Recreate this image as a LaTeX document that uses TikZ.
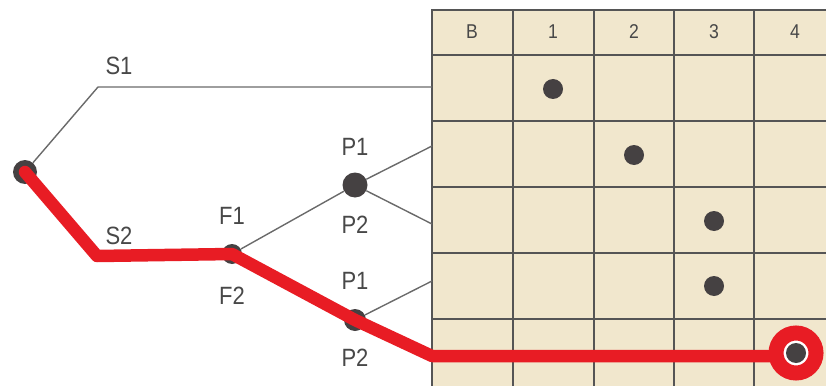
\documentclass[tikz,border=0pt]{standalone}
\usepackage{fontspec}
\setmainfont{Liberation Sans}
\newfontfamily\narrowfont[FakeStretch=0.88]{Liberation Sans}
\definecolor{gridbeige}{HTML}{F1E7CD}
\definecolor{gridline}{HTML}{555555}
\definecolor{branchgray}{HTML}{6A6A6A}
\definecolor{dotgray}{HTML}{454142}
\definecolor{pathred}{HTML}{E81C24}
\definecolor{txtgray}{HTML}{484848}
\tikzset{
  dot/.style={circle, fill=dotgray, inner sep=0pt, minimum size=#1},
  dot/.default=20pt,
  branch/.style={draw=branchgray, line width=1.4pt},
  redpath/.style={draw=pathred, line width=12.5pt, line join=round, line cap=round},
  lbl/.style={text=txtgray, font=\narrowfont\fontsize{25}{29}\selectfont},
  head/.style={text=txtgray, font=\narrowfont\fontsize{20}{23}\selectfont}
}
\begin{document}
\begin{tikzpicture}[x=1pt, y=-1pt]
	\useasboundingbox (0,0) rectangle (826,385);
	% Tableau
	\fill[gridbeige] (432,10) rectangle (840,390);
	\draw[gridline, line width=1.4pt] (840,10) -- (432,10) -- (432,390);
	\draw[gridline, line width=1.4pt] (513,10) -- (513,390);
	\draw[gridline, line width=1.4pt] (594,10) -- (594,390);
	\draw[gridline, line width=1.4pt] (674,10) -- (674,390);
	\draw[gridline, line width=1.4pt] (754,10) -- (754,390);
	\draw[gridline, line width=1.4pt] (432,55) -- (840,55);
	\draw[gridline, line width=1.4pt] (432,121) -- (840,121);
	\draw[gridline, line width=1.4pt] (432,187) -- (840,187);
	\draw[gridline, line width=1.4pt] (432,253) -- (840,253);
	\draw[gridline, line width=1.4pt] (432,319) -- (840,319);
	\node[head] (hB) at (472,32) {B};
	\node[head] (h1) at (553,32) {1};
	\node[head] (h2) at (634,32) {2};
	\node[head] (h3) at (714,32) {3};
	\node[head] (h4) at (795,32) {4};
	\node[dot] (c1) at (553,89) {};
	\node[dot] (c2) at (634,155) {};
	\node[dot] (c3) at (714,221) {};
	\node[dot] (c4) at (714,286) {};
	% Arbre
	\node[dot=24pt] (root) at (25,172) {};
	\node[dot=25pt] (pa) at (355,185) {};
	\node[dot] (f) at (232,254) {};
	\node[dot=22pt] (pb) at (355,320) {};
	\coordinate (s1) at (98,87);
	\coordinate (s2) at (97,256);
	\coordinate (g1) at (432,87);
	\coordinate (g2) at (432,146);
	\coordinate (g3) at (432,224);
	\coordinate (g4) at (432,281);
	\coordinate (g5) at (432,356);
	\coordinate (g6) at (780,356);
	\draw[branch] (root) -- (s1) -- (g1);
	\draw[branch] (f) -- (pa);
	\draw[branch] (pa) -- (g2);
	\draw[branch] (pa) -- (g3);
	\draw[branch] (pb) -- (g4);
	\node[lbl] (lS1) at (119,66) {S1};
	\node[lbl] (lS2) at (119,236) {S2};
	\node[lbl] (lF1) at (232,216) {F1};
	\node[lbl] (lF2) at (232,296) {F2};
	\node[lbl] (lP1a) at (355,147) {P1};
	\node[lbl] (lP2a) at (355,225) {P2};
	\node[lbl] (lP1b) at (355,281) {P1};
	\node[lbl] (lP2b) at (355,358) {P2};
	% Chemin
	\draw[redpath] (root.center) -- (s2) -- (f.center) -- (pb.center) -- (g5) -- (g6);
	\node[circle, draw=pathred, line width=15pt, fill=white, inner sep=0pt, minimum size=40pt] (ring) at (796,353) {};
	\node[dot] (c5) at (ring.center) {};
\end{tikzpicture}
\end{document}
